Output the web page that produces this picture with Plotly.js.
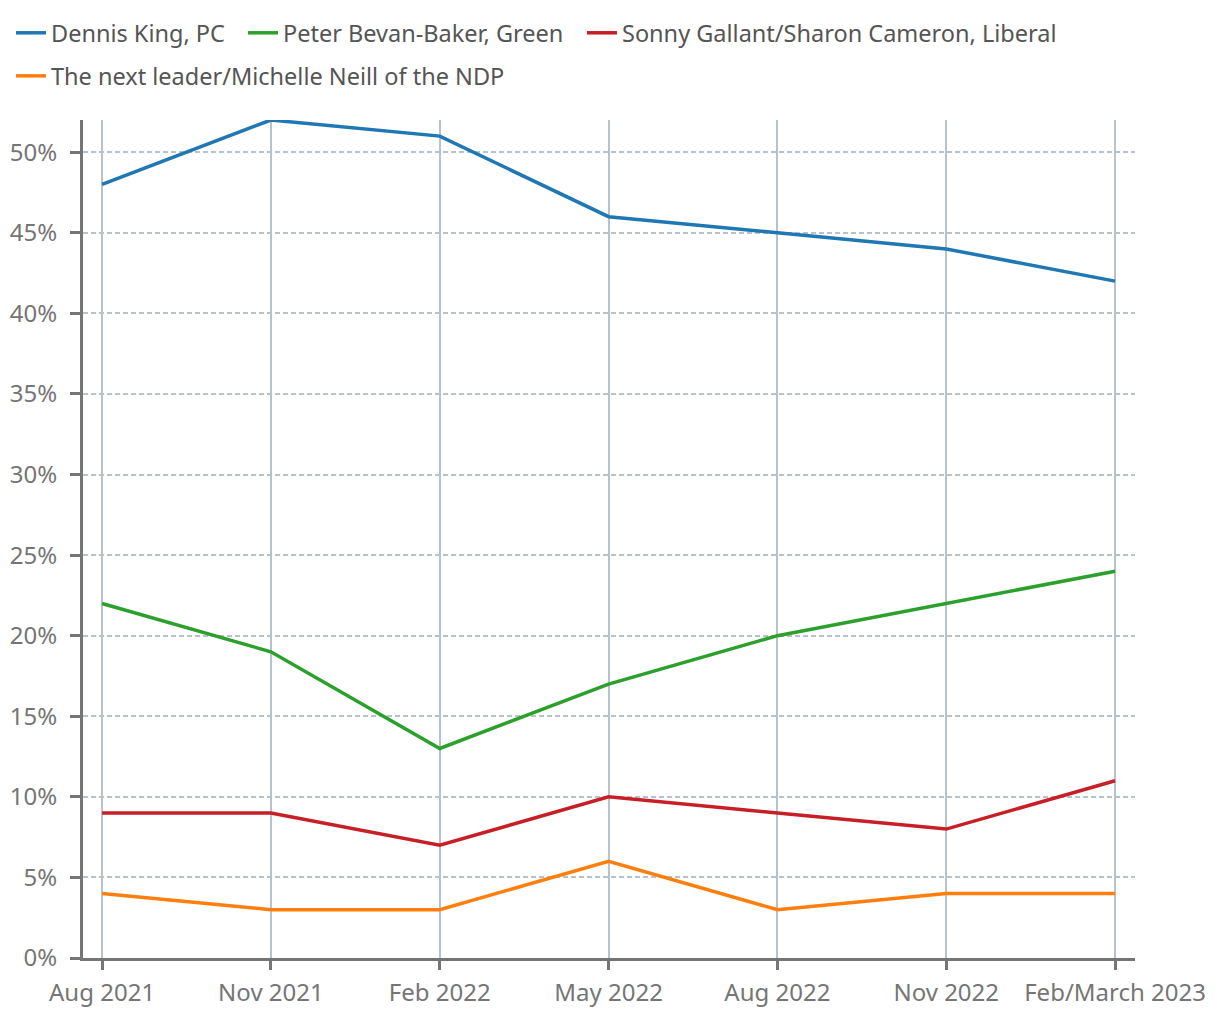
<!DOCTYPE html>
<html>
<head>
<meta charset="utf-8">
<script src="https://cdn.plot.ly/plotly-3.0.1.min.js"></script>
<style>html,body{margin:0;padding:0;background:#fff;}#chart{width:1220px;height:1020px;}</style>
</head>
<body>
<div id="chart"></div>
<script>
const categories = ["Aug 2021","Nov 2021","Feb 2022","May 2022","Aug 2022","Nov 2022","Feb/March 2023"];
const seriesNames = ["Dennis King, PC","Peter Bevan-Baker, Green","Sonny Gallant/Sharon Cameron, Liberal","The next leader/Michelle Neill of the NDP"];
const kingPC = [48,52,51,46,45,44,42];
const bevanBakerGreen = [22,19,13,17,20,22,24];
const gallantLiberal = [9,9,7,10,9,8,11];
const ndp = [4,3,3,6,3,4,4];
const yTickVals = [0,5,10,15,20,25,30,35,40,45,50];
const yTickText = ["0%","5%","10%","15%","20%","25%","30%","35%","40%","45%","50%"];

const colors = ["#1f77b4","#2ca02c","#c62026","#ff7f0e"];
const legendIds = ["legend","legend","legend","legend2"];
const legendWidths = [187, 294, 438, 470];
const values = [kingPC, bevanBakerGreen, gallantLiberal, ndp];
const FONT = "Noto Sans, sans-serif";

const traces = values.map((v,i)=>({
  type:"scatter", mode:"lines", x:categories, y:v, name:seriesNames[i],
  line:{color:colors[i], width:3.5}, hoverinfo:"skip",
  legend:legendIds[i], legendwidth:legendWidths[i]
}));

const legendBase = {orientation:"h", xanchor:"left", yanchor:"top",
  xref:"container", yref:"container",
  font:{size:23.5, color:"#555", family:FONT}, itemwidth:30, traceorder:"normal",
  bgcolor:"rgba(0,0,0,0)"};

const layout = {
  width:1220, height:1020,
  margin:{l:83, r:85, t:120, b:62},
  paper_bgcolor:"#fff", plot_bgcolor:"#fff",
  font:{family:FONT, color:"#757575", size:24},
  showlegend:true,
  legend:Object.assign({}, legendBase, {x:0.009, y:0.9892}),
  legend2:Object.assign({}, legendBase, {x:0.009, y:0.947}),
  xaxis:{
    type:"category", range:[-0.113, 6.118],
    showgrid:true, gridcolor:"#b8c2ca", gridwidth:2,
    showline:true, linecolor:"#757575", linewidth:3,
    ticks:"outside", ticklen:9, tickwidth:3, tickcolor:"#757575",
    ticklabelstandoff:2,
    tickfont:{size:24, color:"#757575"}, zeroline:false, fixedrange:true
  },
  yaxis:{
    range:[0,52], tickvals:yTickVals, ticktext:yTickText,
    showgrid:true, gridcolor:"#b8c2ca", gridwidth:2, griddash:"5px,3px",
    showline:true, linecolor:"#757575", linewidth:3,
    ticks:"outside", ticklen:10, tickwidth:3, tickcolor:"#757575",
    ticklabelstandoff:8,
    tickfont:{size:24, color:"#757575"}, zeroline:false, fixedrange:true
  }
};
Plotly.newPlot("chart", traces, layout, {displayModeBar:false, staticPlot:true});
</script>
</body>
</html>
